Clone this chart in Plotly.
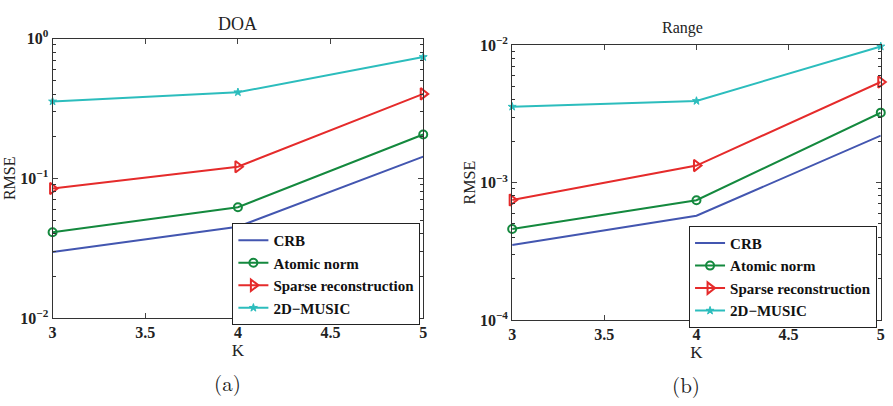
import plotly.graph_objects as go

K = [3, 4, 5]
series_names = ["CRB", "Atomic norm", "Sparse reconstruction", "2D\u2212MUSIC"]

doa_crb = [0.0297, 0.0451, 0.143]
doa_atomic = [0.0411, 0.0621, 0.206]
doa_sparse = [0.0845, 0.121, 0.402]
doa_music = [0.355, 0.413, 0.738]

rng_crb = [0.000351, 0.000574, 0.0022]
rng_atomic = [0.000459, 0.000745, 0.00323]
rng_sparse = [0.000748, 0.00133, 0.0054]
rng_music = [0.00357, 0.00393, 0.0098]

x_ticks = [3, 3.5, 4, 4.5, 5]
x_ticktext = ["3", "3.5", "4", "4.5", "5"]

colors = ["#4356b0", "#14893e", "#e52b2b", "#2cbdbd"]
markers = [None, "circle-open", "triangle-right-open", "star"]
msizes = [0, 8, 10, 6]

SERIF = "Liberation Serif, Times New Roman, serif"
LATEX = "Latin Modern Roman, DejaVu Serif, serif"

def minor_vals(lo, hi):
    vals = []
    for e in range(lo, hi):
        for m in range(2, 10):
            vals.append(m * 10.0 ** e)
    return vals

fig = go.Figure()

def add_series(data, xa, ya, legend):
    for i, (vals, name) in enumerate(zip(data, series_names)):
        mode = "lines" if markers[i] is None else "lines+markers"
        marker = dict(color=colors[i])
        if markers[i] is not None:
            marker.update(symbol=markers[i], size=msizes[i],
                          line=dict(color=colors[i], width=2 if i < 3 else 1))
        fig.add_trace(go.Scatter(
            x=K, y=vals, name=name, mode=mode, xaxis=xa, yaxis=ya,
            line=dict(color=colors[i], width=2), marker=marker,
            legend=legend, cliponaxis=False))

add_series([doa_crb, doa_atomic, doa_sparse, doa_music], "x", "y", "legend")
add_series([rng_crb, rng_atomic, rng_sparse, rng_music], "x2", "y2", "legend2")

xcommon = dict(range=[3, 5], tickvals=x_ticks, ticktext=x_ticktext,
               ticks="inside", ticklen=5, mirror="allticks", showline=True,
               linecolor="#333", linewidth=1.2, showgrid=False, zeroline=False,
               tickfont=dict(family=SERIF, size=16, color="#222", weight="bold"),
               title=dict(text="K", font=dict(family=SERIF, size=17, color="#222"),
                          standoff=0))
ycommon = dict(type="log", ticks="inside", ticklen=5, mirror="allticks",
               showline=True, linecolor="#333", linewidth=1.2, showgrid=False,
               zeroline=False,
               tickfont=dict(family=SERIF, size=16, color="#222", weight="bold"),
               title=dict(text="RMSE", font=dict(family=SERIF, size=16, color="#222"),
                          standoff=0))

LEGEND_FONT = dict(family=SERIF, size=15, color="#111", weight="bold")

fig.update_layout(
    width=893, height=406, margin=dict(l=0, r=0, t=0, b=0),
    paper_bgcolor="white", plot_bgcolor="white",
    xaxis=dict(domain=[0.0549, 0.4737], anchor="y", **xcommon),
    yaxis=dict(domain=[0.2044, 0.9286], anchor="x", range=[-2, 0],
               tickvals=[0.01, 0.1, 1],
               ticktext=["10<sup>\u22122</sup>", "10<sup>\u22121</sup>", "10<sup>0</sup>"],
               minor=dict(ticks="inside", ticklen=3, showgrid=False, tickcolor="#333",
                          tickvals=minor_vals(-2, 0)),
               **ycommon),
    xaxis2=dict(domain=[0.5742, 0.9907], anchor="y2", **xcommon),
    yaxis2=dict(domain=[0.1995, 0.9113], anchor="x2", range=[-4, -2],
                tickvals=[0.0001, 0.001, 0.01],
                ticktext=["10<sup>\u22124</sup>", "10<sup>\u22123</sup>", "10<sup>\u22122</sup>"],
                minor=dict(ticks="inside", ticklen=3, showgrid=False, tickcolor="#333",
                           tickvals=minor_vals(-4, -2)),
                **ycommon),
    legend=dict(x=0.4705, xanchor="right", y=1 - 223 / 406, yanchor="top",
                bordercolor="#222", borderwidth=1, bgcolor="white",
                font=LEGEND_FONT, tracegroupgap=0, itemwidth=30),
    legend2=dict(x=0.9865, xanchor="right", y=1 - 226 / 406, yanchor="top",
                 bordercolor="#222", borderwidth=1, bgcolor="white",
                 font=LEGEND_FONT, tracegroupgap=0, itemwidth=30),
    showlegend=True,
    annotations=[
        dict(text="DOA", x=236 / 893, y=1 - 14 / 406, xref="paper", yref="paper",
             xanchor="center", yanchor="middle",
             showarrow=False, font=dict(family=SERIF, size=18, color="#222")),
        dict(text="Range", x=685 / 893, y=1 - 18 / 406, xref="paper", yref="paper",
             xanchor="center", yanchor="middle",
             showarrow=False, font=dict(family=SERIF, size=16, color="#222")),
        dict(text="(a)", x=226 / 893, y=1 - 390 / 406, xref="paper", yref="paper",
             xanchor="center", yanchor="middle",
             showarrow=False, font=dict(family=LATEX, size=21, color="#222")),
        dict(text="(b)", x=688 / 893, y=1 - 392 / 406, xref="paper", yref="paper",
             xanchor="center", yanchor="middle",
             showarrow=False, font=dict(family=LATEX, size=21, color="#222")),
    ],
)

fig.write_html("out.html")
